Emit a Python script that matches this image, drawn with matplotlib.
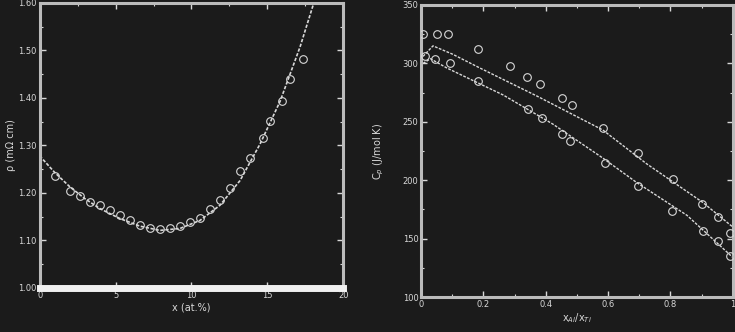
import numpy as np
import matplotlib.pyplot as plt
from matplotlib.ticker import MultipleLocator

# left panel: fitted curve and measured points
left_curve_x = [0.0, 0.99, 1.98, 2.97, 3.96, 5.28, 6.60, 7.92, 9.24, 10.56, 11.88, 13.20, 14.52, 15.84, 17.16, 18.02, 18.48]
left_curve_y = [1.278, 1.243, 1.213, 1.188, 1.167, 1.146, 1.130, 1.121, 1.125, 1.142, 1.174, 1.226, 1.303, 1.393, 1.508, 1.596, 1.634]
left_pts_x = [0.99, 1.98, 2.64, 3.30, 3.96, 4.62, 5.28, 5.94, 6.60, 7.26, 7.92, 8.58, 9.24, 9.90, 10.56,
              11.22, 11.88, 12.54, 13.20, 13.86, 14.72, 15.18, 15.97, 16.50, 17.36]
left_pts_y = [1.236, 1.205, 1.194, 1.180, 1.174, 1.163, 1.153, 1.142, 1.132, 1.125, 1.123, 1.125, 1.130, 1.138, 1.148,
              1.167, 1.184, 1.211, 1.247, 1.274, 1.316, 1.351, 1.393, 1.439, 1.483]

# right panel: two fitted curves and two sets of points
upper_curve_x = [0.006, 0.038, 0.10, 0.189, 0.372, 0.583, 0.724, 0.904, 1.0]
upper_curve_y = [306, 315, 308, 296, 272, 243, 214, 181, 160]
lower_curve_x = [0.006, 0.03, 0.083, 0.263, 0.423, 0.583, 0.692, 0.853, 1.0]
lower_curve_y = [300, 304, 296, 273, 248, 219, 198, 170, 134]
upper_pts_x = [0.006, 0.051, 0.087, 0.183, 0.285, 0.340, 0.381, 0.452, 0.484, 0.583, 0.696, 0.808, 0.901, 0.952, 0.990]
upper_pts_y = [325, 325, 325, 312, 298, 288, 282, 270, 264, 245, 223, 201, 180, 169, 155]
lower_pts_x = [0.013, 0.045, 0.093, 0.183, 0.343, 0.388, 0.452, 0.478, 0.590, 0.696, 0.804, 0.904, 0.952, 0.990]
lower_pts_y = [306, 304, 300, 285, 261, 253, 240, 234, 215, 195, 174, 157, 148, 135]

bg = '#1b1b1b'
fg = '#d8d8d8'

fig = plt.figure(figsize=(7.35, 3.32), dpi=100, facecolor=bg)
ax1 = fig.add_axes([0.054, 0.133, 0.413, 0.858])
ax2 = fig.add_axes([0.573, 0.105, 0.424, 0.880])

for ax in (ax1, ax2):
    ax.set_facecolor(bg)
    for s in ax.spines.values():
        s.set_color('#bbbbbb')
        s.set_linewidth(2.2)
    ax.tick_params(which='both', direction='in', top=True, right=True, colors=fg, labelsize=6, pad=2)
    ax.tick_params(which='major', length=4, width=1)
    ax.tick_params(which='minor', length=2, width=0.8)

ax1.spines['bottom'].set_color('#f0f0f0')
ax1.spines['bottom'].set_linewidth(5)

ax1.plot(left_curve_x, left_curve_y, color=fg, lw=1.2, ls=(0, (2, 1)), zorder=2)
ax1.plot(left_pts_x, left_pts_y, 'o', ms=5.5, mfc='none', mec=fg, mew=0.8, zorder=3)
ax1.set_xlim(0, 20)
ax1.set_ylim(1.0, 1.6)
ax1.xaxis.set_major_locator(MultipleLocator(5))
ax1.xaxis.set_minor_locator(MultipleLocator(2.5))
ax1.yaxis.set_major_locator(MultipleLocator(0.1))
ax1.yaxis.set_minor_locator(MultipleLocator(0.05))
ax1.yaxis.set_major_formatter(plt.FormatStrFormatter('%.2f'))
ax1.set_xlabel('x (at.%)', color=fg, fontsize=7, labelpad=2)
ax1.set_ylabel('ρ (mΩ cm)', color=fg, fontsize=7, labelpad=2)

ax2.plot(upper_curve_x, upper_curve_y, color=fg, lw=1.0, ls=(0, (2, 1)), zorder=2)
ax2.plot(lower_curve_x, lower_curve_y, color=fg, lw=1.0, ls=(0, (2, 1)), zorder=2)
ax2.plot(upper_pts_x, upper_pts_y, 'o', ms=5.5, mfc='none', mec=fg, mew=0.8, zorder=3)
ax2.plot(lower_pts_x, lower_pts_y, 'o', ms=5.5, mfc='none', mec=fg, mew=0.8, zorder=3)
ax2.set_xlim(0, 1)
ax2.set_ylim(100, 350)
ax2.xaxis.set_minor_locator(MultipleLocator(0.1))
ax2.yaxis.set_major_locator(MultipleLocator(50))
ax2.yaxis.set_minor_locator(MultipleLocator(25))
ax2.set_xticks([0, 0.2, 0.4, 0.6, 0.8, 1.0], ['0', '0.2', '0.4', '0.6', '0.8', '1'])
ax2.set_xlabel('x$_{Al}$/x$_{Ti}$', color=fg, fontsize=7, labelpad=2)
ax2.set_ylabel('C$_p$ (J/mol K)', color=fg, fontsize=7, labelpad=12)

fig.savefig('out.png', dpi=100, facecolor=bg)
